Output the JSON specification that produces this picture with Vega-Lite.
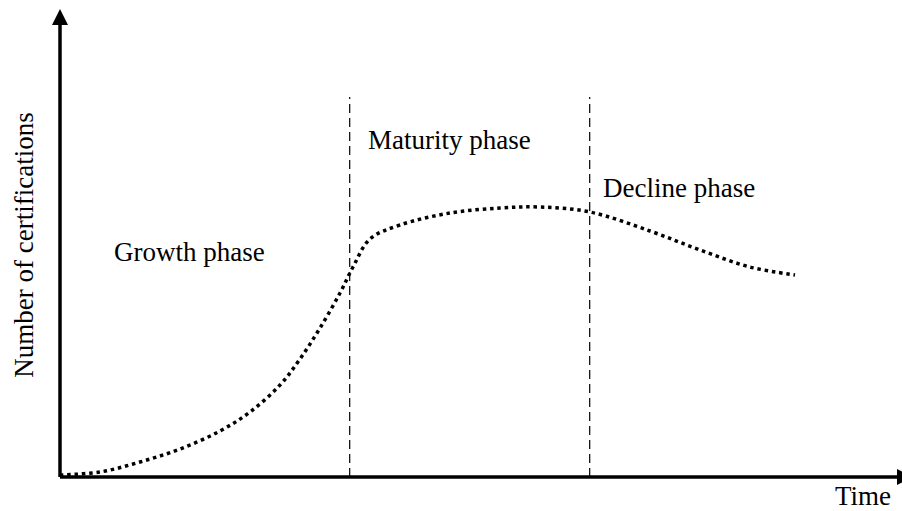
{
  "$schema": "https://vega.github.io/schema/vega-lite/v6.json",
  "width": 842,
  "height": 477,
  "autosize": {"type": "none"},
  "padding": {"left": 60, "top": 0, "right": 0, "bottom": 34},
  "background": "white",
  "config": {"view": {"stroke": null}},
  "datasets": {
    "curve": [
      {"t": 0, "n": 2}, {"t": 40, "n": 5}, {"t": 80, "n": 15}, {"t": 120, "n": 28},
      {"t": 160, "n": 46}, {"t": 190, "n": 65}, {"t": 220, "n": 92}, {"t": 240, "n": 118},
      {"t": 260, "n": 149}, {"t": 280, "n": 184}, {"t": 293, "n": 210}, {"t": 310, "n": 238},
      {"t": 340, "n": 252}, {"t": 390, "n": 264}, {"t": 440, "n": 269}, {"t": 480, "n": 270},
      {"t": 530, "n": 265}, {"t": 590, "n": 246}, {"t": 640, "n": 227}, {"t": 690, "n": 210},
      {"t": 735, "n": 202}
    ],
    "axes": [
      {"x": 0, "y": 0, "x2": 837, "y2": 0},
      {"x": 0, "y": 0, "x2": 0, "y2": 460}
    ],
    "dividers": [{"x": 289.7, "y": 0, "y2": 380}, {"x": 529.7, "y": 0, "y2": 380}],
    "labels": [
      {"x": 54, "y": 216, "label": "Growth phase"},
      {"x": 308, "y": 328, "label": "Maturity phase"},
      {"x": 543, "y": 280, "label": "Decline phase"}
    ],
    "xtitle": [{"x": 775, "y": -27.5, "label": "Time"}],
    "ytitle": [{"x": -27, "y": 232, "label": "Number of certifications"}],
    "uparrow": [{"x": 0, "y": 460}],
    "rightarrow": [{"x": 845, "y": 0}]
  },
  "layer": [
    {
      "data": {"name": "axes"},
      "mark": {"type": "rule", "color": "black", "strokeWidth": 3.5},
      "encoding": {
        "x": {"field": "x", "type": "quantitative", "scale": {"domain": [0, 842], "nice": false, "zero": false}, "axis": null},
        "y": {"field": "y", "type": "quantitative", "scale": {"domain": [0, 477], "nice": false, "zero": false}, "axis": null},
        "x2": {"field": "x2"},
        "y2": {"field": "y2"}
      }
    },
    {
      "data": {"name": "uparrow"},
      "mark": {"type": "point", "shape": "M0,-1L1,1L-1,1Z", "filled": true, "color": "black", "opacity": 1, "size": 256},
      "encoding": {
        "x": {"field": "x", "type": "quantitative"},
        "y": {"field": "y", "type": "quantitative"}
      }
    },
    {
      "data": {"name": "rightarrow"},
      "mark": {"type": "point", "shape": "M1,0L-1,-1L-1,1Z", "filled": true, "color": "black", "opacity": 1, "size": 256},
      "encoding": {
        "x": {"field": "x", "type": "quantitative"},
        "y": {"field": "y", "type": "quantitative"}
      }
    },
    {
      "data": {"name": "dividers"},
      "mark": {"type": "rule", "color": "black", "strokeWidth": 1.2, "strokeDash": [9, 5]},
      "encoding": {
        "x": {"field": "x", "type": "quantitative"},
        "y": {"field": "y", "type": "quantitative"},
        "y2": {"field": "y2"}
      }
    },
    {
      "data": {"name": "curve"},
      "mark": {"type": "line", "interpolate": "catmull-rom", "color": "black", "strokeWidth": 3.5, "strokeDash": [3.5, 3.8], "strokeCap": "butt"},
      "encoding": {
        "x": {"field": "t", "type": "quantitative"},
        "y": {"field": "n", "type": "quantitative"}
      }
    },
    {
      "data": {"name": "labels"},
      "mark": {"type": "text", "align": "left", "baseline": "alphabetic", "font": "Liberation Serif", "fontSize": 27, "color": "black"},
      "encoding": {
        "x": {"field": "x", "type": "quantitative"},
        "y": {"field": "y", "type": "quantitative"},
        "text": {"field": "label"}
      }
    },
    {
      "data": {"name": "xtitle"},
      "mark": {"type": "text", "align": "left", "baseline": "alphabetic", "font": "Liberation Serif", "fontSize": 27, "color": "black"},
      "encoding": {
        "x": {"field": "x", "type": "quantitative"},
        "y": {"field": "y", "type": "quantitative"},
        "text": {"field": "label"}
      }
    },
    {
      "data": {"name": "ytitle"},
      "mark": {"type": "text", "align": "center", "baseline": "alphabetic", "angle": 270, "font": "Liberation Serif", "fontSize": 27, "color": "black"},
      "encoding": {
        "x": {"field": "x", "type": "quantitative"},
        "y": {"field": "y", "type": "quantitative"},
        "text": {"field": "label"}
      }
    }
  ]
}
